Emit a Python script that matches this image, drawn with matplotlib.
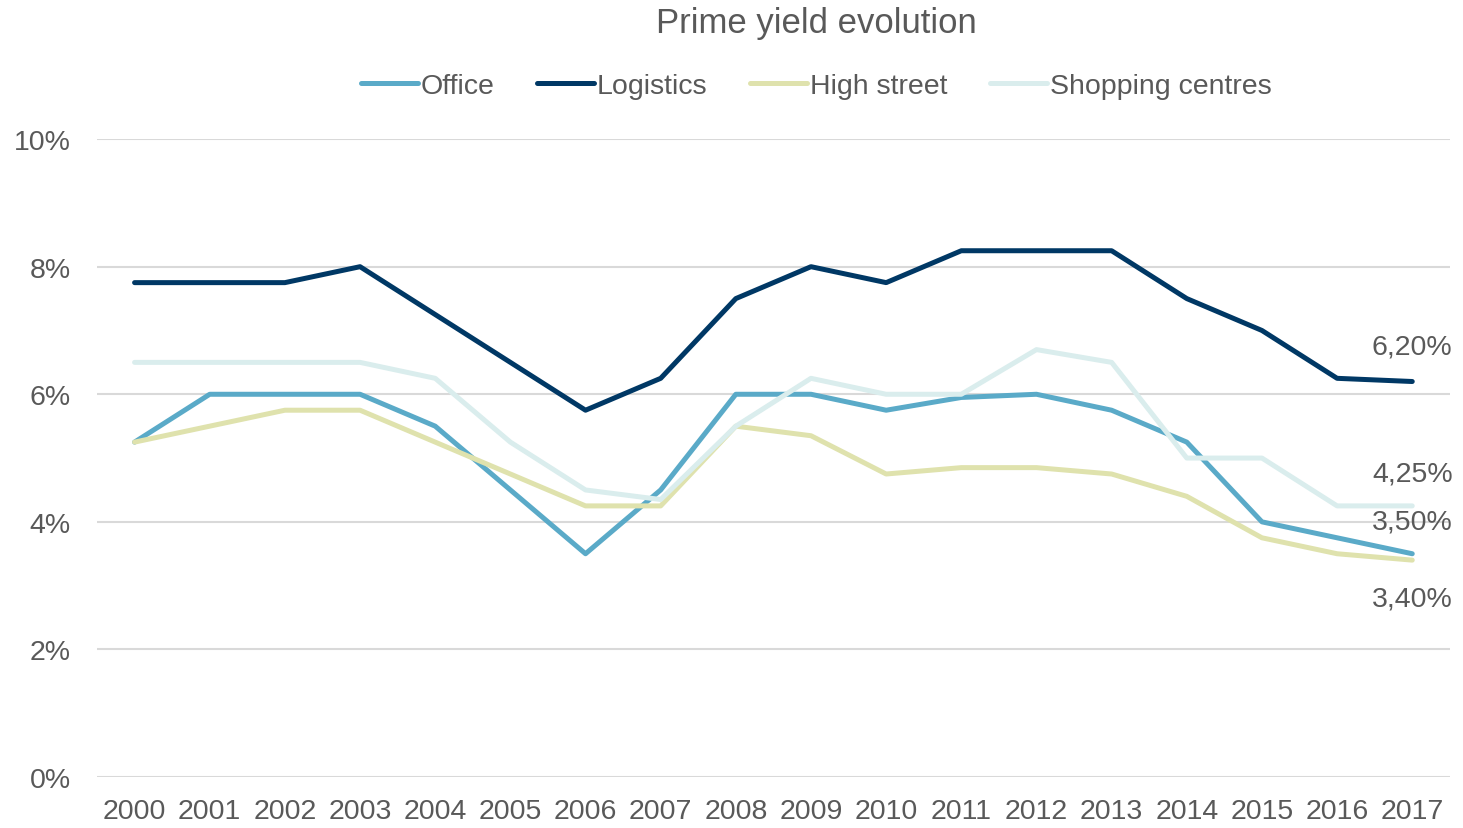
import matplotlib
matplotlib.use('Agg')
from matplotlib import pyplot as plt

plt.rcParams['font.family'] = ['Liberation Sans', 'DejaVu Sans']

years = [str(y) for y in range(2000, 2018)]
office = [5.25, 6.0, 6.0, 6.0, 5.5, 4.5, 3.5, 4.5, 6.0, 6.0, 5.75, 5.95, 6.0, 5.75, 5.25, 4.0, 3.75, 3.5]
logistics = [7.75, 7.75, 7.75, 8.0, 7.25, 6.5, 5.75, 6.25, 7.5, 8.0, 7.75, 8.25, 8.25, 8.25, 7.5, 7.0, 6.25, 6.2]
high_street = [5.25, 5.5, 5.75, 5.75, 5.25, 4.75, 4.25, 4.25, 5.5, 5.35, 4.75, 4.85, 4.85, 4.75, 4.4, 3.75, 3.5, 3.4]
shopping = [6.5, 6.5, 6.5, 6.5, 6.25, 5.25, 4.5, 4.35, 5.5, 6.25, 6.0, 6.0, 6.7, 6.5, 5.0, 5.0, 4.25, 4.25]

series = [
	("Office", office, '#5AAAC8'),
	("Logistics", logistics, '#003865'),
	("High street", high_street, '#DFE2AD'),
	("Shopping centres", shopping, '#DAEDED'),
]

txt = '#595959'
fs = 20.5

fig = plt.figure(figsize=(14.63, 8.29), dpi=100)
ax = fig.add_axes([0.0663, 0.0615, 0.9247, 0.7695])

x = list(range(len(years)))
for name, vals, col in series:
	ax.plot(x, vals, color=col, linewidth=3.6, label=name, solid_capstyle='round')

# end labels
ax.annotate("6,20%", (x[-1], logistics[-1]), xytext=(0, 16), textcoords='offset points',
	ha='center', va='bottom', fontsize=fs, color=txt)
ax.annotate("4,25%", (x[-1], shopping[-1]), xytext=(0, 14), textcoords='offset points',
	ha='center', va='bottom', fontsize=fs, color=txt)
ax.annotate("3,50%", (x[-1], office[-1]), xytext=(0, 14), textcoords='offset points',
	ha='center', va='bottom', fontsize=fs, color=txt)
ax.annotate("3,40%", (x[-1], high_street[-1]), xytext=(0, -18), textcoords='offset points',
	ha='center', va='top', fontsize=fs, color=txt)

ax.set_xlim(-0.5, len(years) - 0.5)
ax.set_ylim(0, 10)
ax.set_xticks(x)
ax.set_xticklabels(years)
ax.set_yticks([0, 2, 4, 6, 8, 10])
ax.set_yticklabels(["0%", "2%", "4%", "6%", "8%", "10%"])
ax.tick_params(length=0, labelsize=fs, labelcolor=txt)
ax.tick_params(axis='x', pad=15)
ax.tick_params(axis='y', pad=19)
ax.grid(axis='y', color='#D9D9D9', linewidth=1.5)
ax.set_axisbelow(True)
for s in ax.spines.values():
	s.set_visible(False)

fig.text(0.558, 0.972, "Prime yield evolution", ha='center', va='center', fontsize=25, color=txt)
fig.legend(loc='center', bbox_to_anchor=(0.558, 0.895), ncol=4, frameon=False,
	fontsize=20.5, labelcolor=txt, handlelength=2.0, handletextpad=0.1, columnspacing=1.5)

fig.savefig('out.png')
